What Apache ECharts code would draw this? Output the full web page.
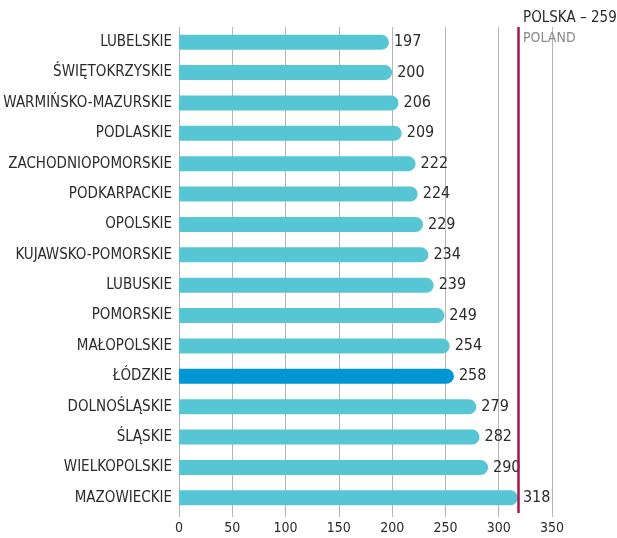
<!DOCTYPE html>
<html>
<head>
<meta charset="utf-8">
<script src="https://cdn.jsdelivr.net/npm/echarts@6/dist/echarts.min.js"></script>
<style>
  html, body { margin: 0; padding: 0; background: #fff; }
  #chart { width: 617px; height: 538px; }
</style>
</head>
<body>
<div id="chart"></div>
<script>
// Voivodeships, top to bottom
const regions = [
  'LUBELSKIE', 'ŚWIĘTOKRZYSKIE', 'WARMIŃSKO-MAZURSKIE', 'PODLASKIE',
  'ZACHODNIOPOMORSKIE', 'PODKARPACKIE', 'OPOLSKIE', 'KUJAWSKO-POMORSKIE',
  'LUBUSKIE', 'POMORSKIE', 'MAŁOPOLSKIE', 'ŁÓDZKIE', 'DOLNOŚLĄSKIE',
  'ŚLĄSKIE', 'WIELKOPOLSKIE', 'MAZOWIECKIE'
];
const values = [197, 200, 206, 209, 222, 224, 229, 234, 239, 249, 254, 258, 279, 282, 290, 318];
const highlighted = 'ŁÓDZKIE';
const xTicks = [0, 50, 100, 150, 200, 250, 300, 350];
const nationalLabel = 'POLSKA – 259';
const nationalLabelEn = 'POLAND';

const FONT = "'DejaVu Sans Condensed', 'Liberation Sans Narrow', 'Noto Sans', sans-serif";
const BAR = '#56c6d4';
const BAR_HI = '#0096d3';
const TEXT = '#2b2b2b';
const GRID = '#b5b5b5';

const chart = echarts.init(document.getElementById('chart'), null, { renderer: 'canvas' });

chart.setOption({
  animation: false,
  backgroundColor: '#ffffff',
  title: {
    left: 523, top: 8, padding: 0,
    text: '{a|' + nationalLabel + '}\n{b|' + nationalLabelEn + '}',
    textStyle: {
      fontWeight: 'normal',
      rich: {
        a: { fontFamily: FONT, fontSize: 15, fontWeight: 'normal', color: TEXT, lineHeight: 20 },
        b: { fontFamily: FONT, fontSize: 14, fontWeight: 'normal', color: '#8a8a8a', lineHeight: 20 }
      }
    }
  },
  grid: { left: 179, right: 65, top: 27, bottom: 25, containLabel: false, outerBoundsMode: 'none' },
  xAxis: {
    type: 'value',
    min: xTicks[0],
    max: xTicks[xTicks.length - 1],
    interval: xTicks[1] - xTicks[0],
    axisLine: { show: false },
    axisTick: { show: true, length: 4, lineStyle: { color: GRID } },
    axisLabel: { fontFamily: FONT, fontSize: 14, color: TEXT, margin: 8 },
    splitLine: { show: true, lineStyle: { color: GRID, width: 1 } }
  },
  yAxis: {
    type: 'category',
    inverse: true,
    data: regions,
    axisLine: { show: false },
    axisTick: { show: false },
    axisLabel: { fontFamily: FONT, fontSize: 15, color: TEXT, margin: 7 }
  },
  series: [{
    type: 'bar',
    barWidth: 15,
    data: values.map((v, i) => ({
      value: v,
      itemStyle: { color: regions[i] === highlighted ? BAR_HI : BAR }
    })),
    itemStyle: { borderRadius: [0, 7.5, 7.5, 0] },
    label: {
      show: true, position: 'right', distance: 5,
      fontFamily: FONT, fontSize: 16, color: TEXT
    },
    // separator line at the right end of the longest bar
    markLine: {
      symbol: ['none', 'none'],
      silent: true,
      label: { show: false },
      lineStyle: { color: '#a3164f', width: 2.5, type: 'solid' },
      data: [{ type: 'max', valueDim: 'x' }]
    }
  }]
});
</script>
</body>
</html>
